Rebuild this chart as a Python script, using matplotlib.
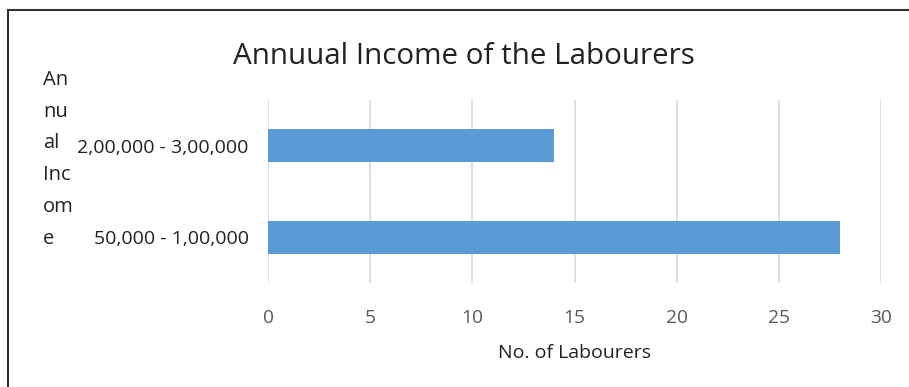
import matplotlib
matplotlib.use("Agg")
import matplotlib.pyplot as plt
from matplotlib.lines import Line2D

categories = ["50,000 - 1,00,000", "2,00,000 - 3,00,000"]
labourers = [28, 14]
xticks = [0, 5, 10, 15, 20, 25, 30]

plt.rcParams["font.family"] = ["Open Sans", "DejaVu Sans"]

W, H = 909, 387
fig = plt.figure(figsize=(W / 100, H / 100), dpi=100)
ax = fig.add_axes([268 / W, 1 - 283 / H, (881 - 268) / W, (283 - 100) / H])

ax.barh(range(len(categories)), labourers, height=0.36, color="#5B9BD5", zorder=3)
ax.set_xlim(0, 30)
ax.set_ylim(-0.5, len(categories) - 0.5)
ax.set_xticks(xticks)
ax.set_xticklabels([str(t) for t in xticks], fontsize=13.8, color="#595959")
ax.set_yticks(range(len(categories)))
ax.set_yticklabels(categories, fontsize=14, color="#222222")
ax.tick_params(length=0, pad=14)
ax.tick_params(axis="x", pad=19)
ax.grid(axis="x", color="#D9D9D9", linewidth=1.2, zorder=0)
for s in ax.spines.values():
    s.set_visible(False)
ax.set_xlabel("No. of Labourers", fontsize=14, color="#222222", labelpad=12)

fig.text(464 / W, 1 - 57 / H, "Annuual Income of the Labourers",
         ha="center", va="center", fontsize=21.3, color="#222222")
fig.text(43 / W, 1 - 70 / H, "An\nnu\nal\nInc\nom\ne", ha="left", va="top",
         fontsize=14.5, color="#222222", linespacing=1.78)

# chart border (left and top edges visible)
fig.add_artist(Line2D([8 / W, 8 / W], [0, 1 - 10 / H], transform=fig.transFigure,
                      color="#333333", linewidth=1.5))
fig.add_artist(Line2D([8 / W, 1], [1 - 10 / H, 1 - 10 / H], transform=fig.transFigure,
                      color="#333333", linewidth=1.5))

fig.savefig("out.png", dpi=100)
